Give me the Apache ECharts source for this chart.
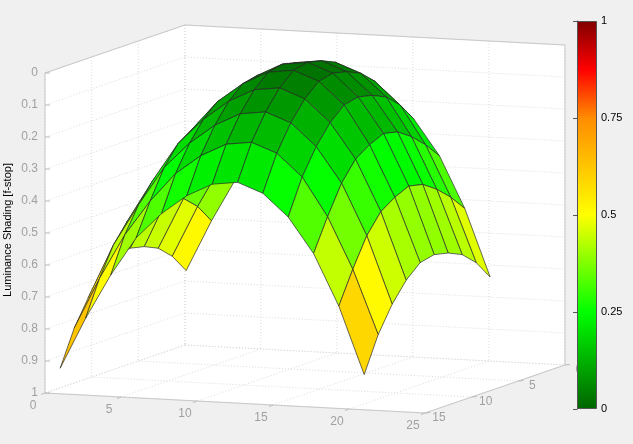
<!DOCTYPE html>
<html><head><meta charset="utf-8">
<script src="https://cdn.jsdelivr.net/npm/echarts@6/dist/echarts.min.js"></script>
<style>html,body{margin:0;padding:0;background:#f0f0f0}#c{width:633px;height:444px}</style>
</head><body><div id="c"></div>
<script>
const xs = [1,2.67,4.33,6,7.67,9.33,11,12.67,14.33,16,17.67,19.33,21];
const ys = [1.5,3,4.5,6,7.5,9,10.5,12,13.5,15];
const Z = [
[0.75,0.59,0.45,0.33,0.25,0.19,0.15,0.14,0.17,0.24,0.35,0.51,0.72],
[0.69,0.53,0.39,0.28,0.19,0.13,0.09,0.08,0.11,0.18,0.30,0.46,0.66],
[0.65,0.49,0.35,0.24,0.15,0.09,0.05,0.04,0.07,0.14,0.26,0.42,0.62],
[0.63,0.46,0.33,0.21,0.13,0.06,0.03,0.02,0.05,0.12,0.23,0.39,0.60],
[0.62,0.46,0.32,0.20,0.12,0.06,0.02,0.01,0.04,0.11,0.22,0.38,0.59],
[0.63,0.47,0.33,0.22,0.13,0.07,0.03,0.02,0.05,0.12,0.24,0.40,0.60],
[0.67,0.50,0.37,0.25,0.17,0.11,0.07,0.06,0.09,0.16,0.27,0.43,0.64],
[0.73,0.56,0.43,0.31,0.23,0.17,0.13,0.12,0.15,0.22,0.33,0.49,0.70],
[0.81,0.65,0.51,0.40,0.31,0.25,0.21,0.20,0.23,0.30,0.42,0.58,0.78],
[0.92,0.76,0.62,0.50,0.42,0.36,0.32,0.31,0.34,0.41,0.52,0.68,0.89]
];
const xTicks = [0,5,10,15,20,25];
const yTicks = [0,5,10,15];
const zTicks = [0,0.1,0.2,0.3,0.4,0.5,0.6,0.7,0.8,0.9,1];
const cmapStops = [[0,[0,100,0]],[0.25,[0,255,0]],[0.5,[255,255,0]],[0.75,[255,140,0]],[0.875,[255,0,0]],[1,[128,0,0]]];
const colorScale = 0.8;

function P(x,y,z){return [45+15.2*x+9.33*(15-y), 73+0.8*x-3.2*(15-y)+320*z];}
function cmap(v){
  v=Math.max(0,Math.min(1,v));
  for(let k=1;k<cmapStops.length;k++){
    const a=cmapStops[k-1],b=cmapStops[k];
    if(v<=b[0]){const t=(v-a[0])/(b[0]-a[0]);
      const c=a[1].map((q,i)=>Math.round(q+(b[1][i]-q)*t));return 'rgb('+c.join(',')+')';}
  }
  return 'rgb(128,0,0)';
}
const cells=[];
for(let j=0;j<ys.length-1;j++)for(let i=0;i<xs.length-1;i++){
  cells.push([i,j,0.8*(xs[i]+xs[i+1])/2+3.2*(ys[j]+ys[j+1])/2]);
}
cells.sort((a,b)=>a[2]-b[2]);

const chart=echarts.init(document.getElementById('c'));
const gridC='#c8c8c8', dotC='#dcdcdc', lblC='#a0a0a0';
function line(api,a,b,stroke,dash){
  const p=api.coord(a),q=api.coord(b);
  return {type:'line',shape:{x1:p[0],y1:p[1],x2:q[0],y2:q[1]},style:{stroke:stroke,lineWidth:1,lineDash:dash||null}};
}
function poly(api,pts,fill){return {type:'polygon',shape:{points:pts.map(p=>api.coord(p))},style:{fill:fill,stroke:null}};}
function txt(api,p,s,align,fill,font){const c=api.coord(p);return {type:'text',x:c[0],y:c[1],style:{text:s,fill:fill||lblC,font:font||'12px Arial',align:align||'center',verticalAlign:'middle'}};}

function renderBox(params,api){
  const ch=[];
  ch.push(poly(api,[P(0,0,0),P(25,0,0),P(25,0,1),P(0,0,1)],'#fff'));
  ch.push(poly(api,[P(0,0,0),P(0,15,0),P(0,15,1),P(0,0,1)],'#fff'));
  ch.push(poly(api,[P(0,0,1),P(25,0,1),P(25,15,1),P(0,15,1)],'#fff'));
  const d=[1,2];
  xTicks.forEach(x=>{ch.push(line(api,P(x,0,0),P(x,0,1),dotC,d));ch.push(line(api,P(x,0,1),P(x,15,1),dotC,d));});
  yTicks.forEach(y=>{ch.push(line(api,P(0,y,0),P(0,y,1),dotC,d));ch.push(line(api,P(0,y,1),P(25,y,1),dotC,d));});
  zTicks.forEach(z=>{ch.push(line(api,P(0,0,z),P(25,0,z),dotC,d));ch.push(line(api,P(0,0,z),P(0,15,z),dotC,d));});
  ch.push(line(api,P(0,15,0),P(0,15,1),gridC));
  ch.push(line(api,P(0,15,1),P(25,15,1),gridC));
  ch.push(line(api,P(25,15,1),P(25,0,1),gridC));
  ch.push(line(api,P(0,15,0),P(0,0,0),gridC));
  ch.push(line(api,P(0,0,0),P(25,0,0),gridC));
  ch.push(line(api,P(25,0,0),P(25,0,1),gridC));
  zTicks.forEach(z=>{const p=P(0,15,z);ch.push(line(api,p,[p[0]+5,p[1]],'#bbb'));
    ch.push(txt(api,[p[0]-7,p[1]],String(z),'right'));});
  xTicks.forEach(x=>{const p=P(x,15,1);ch.push(line(api,p,[p[0]-4,p[1]+1.5],'#bbb'));
    ch.push(txt(api,[p[0]-12,p[1]+13],String(x)));});
  yTicks.forEach(y=>{const p=P(25,y,1);ch.push(line(api,p,[p[0]+5,p[1]-0.5],'#bbb'));
    ch.push(txt(api,[p[0]+14,p[1]+5],String(y)));});
  return {type:'group',children:ch};
}
function renderCell(params,api){
  const i=api.value(0),j=api.value(1);
  const z=[Z[j][i],Z[j][i+1],Z[j+1][i+1],Z[j+1][i]];
  const pts=[P(xs[i],ys[j],z[0]),P(xs[i+1],ys[j],z[1]),P(xs[i+1],ys[j+1],z[2]),P(xs[i],ys[j+1],z[3])];
  const avg=(z[0]+z[1]+z[2]+z[3])/4;
  return {type:'polygon',shape:{points:pts.map(p=>api.coord(p))},style:{fill:cmap(avg*colorScale),stroke:'#2a2a2a',lineWidth:0.7,lineJoin:'round'}};
}
const cbColors=cmapStops.map(s=>({offset:1-s[0],color:'rgb('+s[1].join(',')+')'}));
chart.setOption({
  backgroundColor:'#f0f0f0',
  animation:false,
  grid:[{left:0,top:0,width:633,height:444},{left:577,top:21,width:20,height:388}],
  xAxis:[{type:'value',min:0,max:633,show:false,gridIndex:0},{type:'value',min:0,max:1,show:false,gridIndex:1}],
  yAxis:[{type:'value',min:0,max:444,inverse:true,show:false,gridIndex:0},
    {type:'value',min:0,max:1,interval:0.25,gridIndex:1,position:'right',
     axisLine:{show:true,lineStyle:{color:'#555'}},axisTick:{show:true,inside:true,length:4,lineStyle:{color:'#555'}},
     splitLine:{show:false},axisLabel:{color:'#000',fontSize:11,fontFamily:'Arial',margin:4,formatter:v=>String(v)}}],
  series:[
    {type:'custom',coordinateSystem:'cartesian2d',xAxisIndex:0,yAxisIndex:0,data:[[0,0]],renderItem:renderBox,silent:true,z:1},
    {type:'custom',coordinateSystem:'cartesian2d',xAxisIndex:0,yAxisIndex:0,data:cells,renderItem:renderCell,silent:true,z:2},
    {type:'bar',xAxisIndex:1,yAxisIndex:1,data:[[0.5,1]],barWidth:20,silent:true,
     itemStyle:{borderColor:'#555',borderWidth:1,color:new echarts.graphic.LinearGradient(0,0,0,1,cbColors)}}
  ],
  graphic:[{type:'text',x:8,y:230,rotation:Math.PI/2,style:{text:'Luminance Shading [f-stop]',fill:'#000',font:'11px Arial',align:'center',verticalAlign:'middle'}}]
});
</script></body></html>
